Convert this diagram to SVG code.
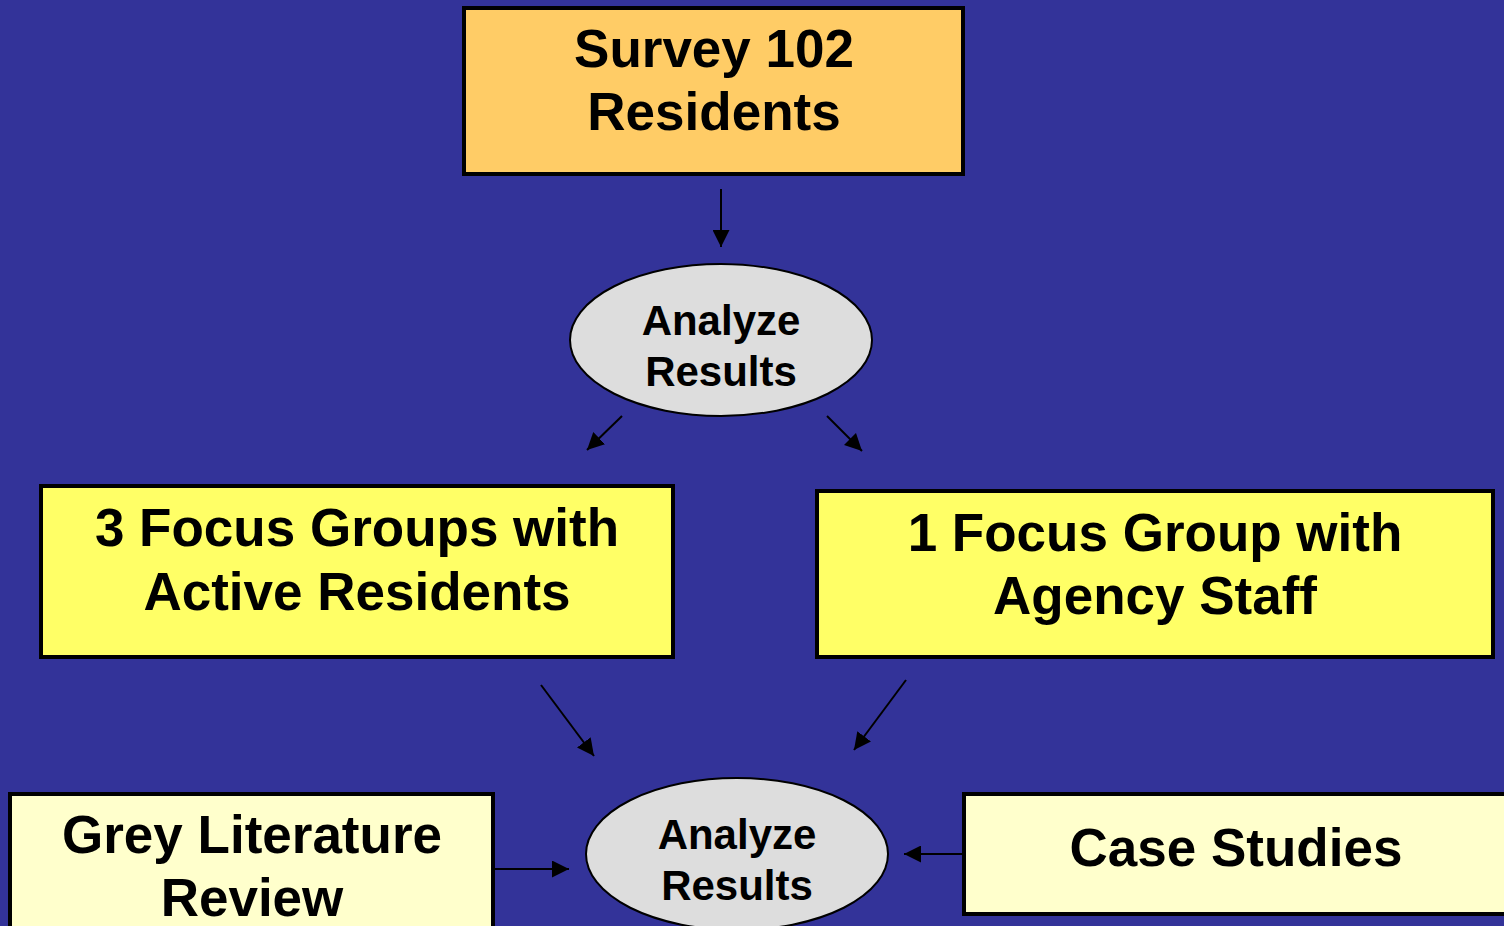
<svg xmlns="http://www.w3.org/2000/svg" width="1504" height="926" viewBox="0 0 1504 926">
<style>
.box{stroke:#000;stroke-width:4}
.ell{fill:#DDDDDD;stroke:#000;stroke-width:2}
.t{font-family:"Liberation Sans",Arial,sans-serif;font-weight:bold;fill:#000;text-anchor:middle}
.big{font-size:53px}
.sm{font-size:42px}
.conn line{stroke:#000;stroke-width:2;marker-end:url(#ah)}
</style>
<defs>
<marker id="ah" viewBox="0 0 10 10" refX="10" refY="5" markerWidth="17" markerHeight="17" markerUnits="userSpaceOnUse" orient="auto">
<path d="M0,0 L10,5 L0,10 Z" fill="#000"/>
</marker>
</defs>
<rect width="1504" height="926" fill="#333399"/>
<g class="conn">
<line x1="721" y1="189" x2="721" y2="247"/>
<line x1="622" y1="416" x2="587" y2="450"/>
<line x1="827" y1="416" x2="862" y2="451"/>
<line x1="541" y1="685" x2="594" y2="756"/>
<line x1="906" y1="680" x2="854" y2="750"/>
<line x1="495" y1="869" x2="569" y2="869"/>
<line x1="962" y1="854" x2="904" y2="854"/>
</g>
<g id="survey">
<rect class="box" x="464" y="8" width="499" height="166" fill="#FFCC66"/>
<text class="t big" x="714" y="67">Survey 102</text>
<text class="t big" x="714" y="130">Residents</text>
</g>
<g id="analyze1">
<ellipse class="ell" cx="721" cy="340" rx="151" ry="76"/>
<text class="t sm" x="721" y="335">Analyze</text>
<text class="t sm" x="721" y="386">Results</text>
</g>
<g id="focus3">
<rect class="box" x="41" y="486" width="632" height="171" fill="#FFFF66"/>
<text class="t big" x="357" y="546">3 Focus Groups with</text>
<text class="t big" x="357" y="610">Active Residents</text>
</g>
<g id="focus1">
<rect class="box" x="817" y="491" width="676" height="166" fill="#FFFF66"/>
<text class="t big" x="1155" y="551">1 Focus Group with</text>
<text class="t big" x="1155" y="614">Agency Staff</text>
</g>
<g id="analyze2">
<ellipse class="ell" cx="737" cy="854" rx="151" ry="76"/>
<text class="t sm" x="737" y="849">Analyze</text>
<text class="t sm" x="737" y="900">Results</text>
</g>
<g id="grey">
<rect class="box" x="10" y="794" width="483" height="150" fill="#FFFFCC"/>
<text class="t big" x="252" y="853">Grey Literature</text>
<text class="t big" x="252" y="916">Review</text>
</g>
<g id="case">
<rect class="box" x="964" y="794" width="560" height="120" fill="#FFFFCC"/>
<text class="t big" x="1236" y="866">Case Studies</text>
</g>
</svg>
